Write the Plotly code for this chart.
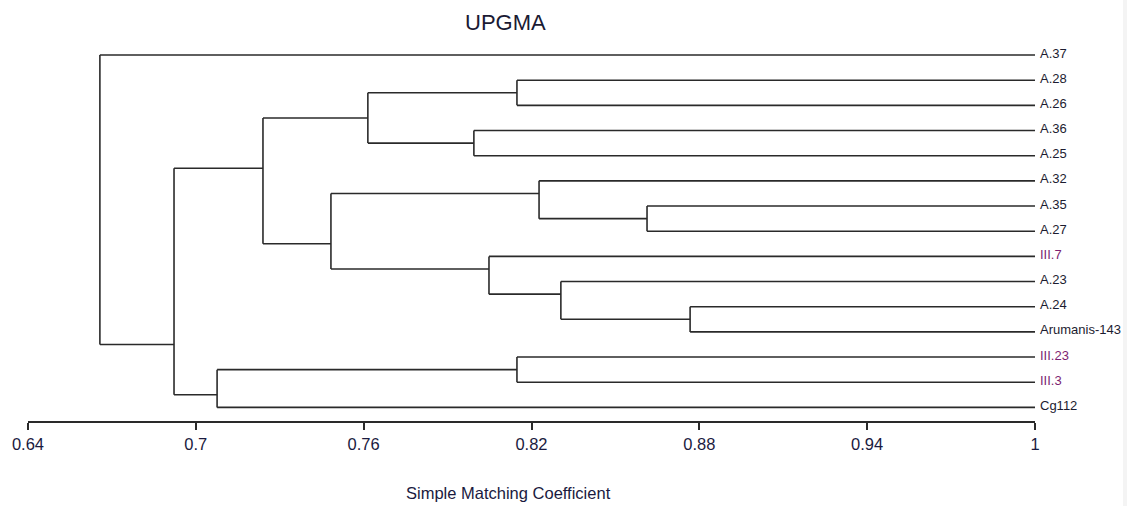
import plotly.graph_objects as go

# ---- data ----
leaf_names = ["A.37", "A.28", "A.26", "A.36", "A.25", "A.32", "A.35", "A.27",
              "III.7", "A.23", "A.24", "Arumanis-143", "III.23", "III.3", "Cg112"]
leaf_groups = ["A", "A", "A", "A", "A", "A", "A", "A",
               "III", "A", "A", "A", "III", "III", "Cg"]

# UPGMA merges (top child, bottom child, similarity level); nodes named n0..n13
merge_top = ["A.28", "A.36", "n0", "A.35", "A.32", "A.24", "A.23", "III.7",
             "n4", "n2", "III.23", "n10", "n9", "A.37"]
merge_bottom = ["A.26", "A.25", "n1", "A.27", "n3", "Arumanis-143", "n5", "n6",
                "n7", "n8", "III.3", "Cg112", "n11", "n12"]
merge_height = [0.8148, 0.7994, 0.7615, 0.8613, 0.8227, 0.8767, 0.8305, 0.8048,
                0.7483, 0.7240, 0.8148, 0.7076, 0.6922, 0.6657]

x_ticks = [0.64, 0.70, 0.76, 0.82, 0.88, 0.94, 1.0]
x_tick_text = ["0.64", "0.7", "0.76", "0.82", "0.88", "0.94", "1"]
leaf_level = 1.0

# ---- layout of the tree ----
info = {}
for i, name in enumerate(leaf_names):
    info[name] = {"first": i, "last": i, "y": float(i), "x": leaf_level}

xs, ys = [], []
for k, (a, b, h) in enumerate(zip(merge_top, merge_bottom, merge_height)):
    A, B = info[a], info[b]
    y_conn = (A["last"] + B["first"]) / 2.0
    info["n%d" % k] = {"first": A["first"], "last": B["last"], "y": y_conn, "x": h}
    # vertical
    xs += [h, h, None]
    ys += [A["y"], B["y"], None]
    # horizontals to children
    xs += [h, A["x"], None, h, B["x"], None]
    ys += [A["y"], A["y"], None, B["y"], B["y"], None]

FONT = "Liberation Sans, Arial, sans-serif"
line_col = "#2a2a2a"

fig = go.Figure()
fig.add_trace(go.Scatter(x=xs, y=ys, mode="lines",
                         line=dict(color=line_col, width=1.6),
                         hoverinfo="skip", showlegend=False))

color_map = {"A": "#1c1c30", "III": "#7d1f72", "Cg": "#1c1c30"}
annotations = []
for i, (name, g) in enumerate(zip(leaf_names, leaf_groups)):
    annotations.append(dict(x=leaf_level, y=i, xref="x", yref="y", text=name,
                            showarrow=False, xanchor="left", yanchor="middle",
                            xshift=3, yshift=2,
                            font=dict(family=FONT, size=13, color=color_map[g])))

annotations.append(dict(x=0.4744, y=1.018, xref="paper", yref="paper", text="UPGMA",
                        showarrow=False, xanchor="center", yanchor="middle",
                        font=dict(family=FONT, size=22, color="#1a1a33")))
annotations.append(dict(x=0.4767, y=-0.185, xref="paper", yref="paper",
                        text="Simple Matching Coefficient",
                        showarrow=False, xanchor="center", yanchor="middle",
                        font=dict(family=FONT, size=16.5, color="#1a1a40")))

fig.update_layout(
    width=1127, height=506,
    margin=dict(l=28, r=92, t=30, b=85),
    paper_bgcolor="white", plot_bgcolor="white",
    annotations=annotations,
    xaxis=dict(range=[0.64, 1.0], tickvals=x_ticks, ticktext=x_tick_text,
               showgrid=False, zeroline=False, showline=True, linecolor=line_col,
               linewidth=1.6, ticks="outside", ticklen=7, tickwidth=1.6,
               tickcolor=line_col,
               tickfont=dict(family=FONT, size=16.5, color="#1a1a40")),
    yaxis=dict(range=[14.54, -0.994], showgrid=False, zeroline=False,
               showline=False, showticklabels=False, ticks=""),
    shapes=[dict(type="rect", xref="paper", yref="paper", x0=1.0874, x1=1.092,
                 y0=-0.3, y1=1.1, line=dict(width=0), fillcolor="#f4f4f4")],
)

fig.write_html("out.html")
